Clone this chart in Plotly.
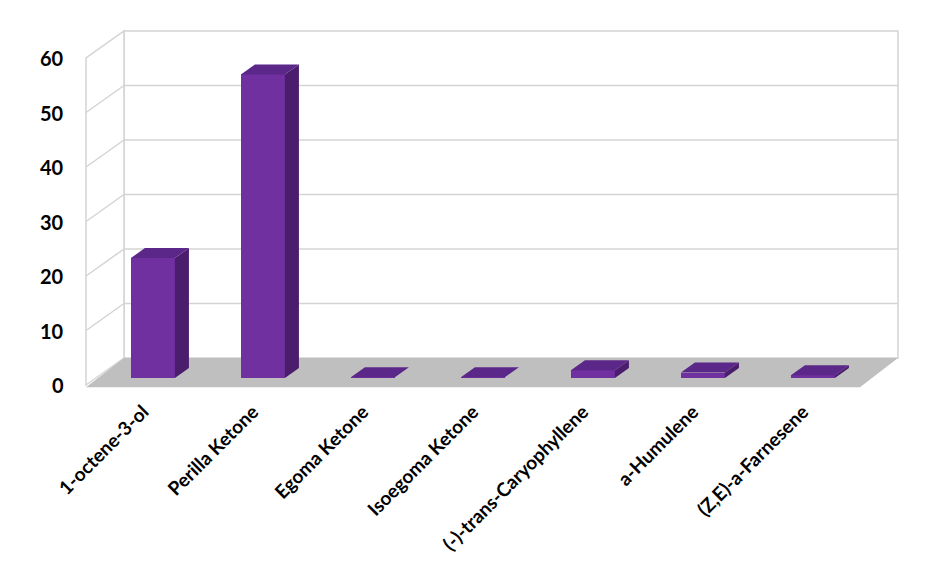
import plotly.graph_objects as go

categories = ["1-octene-3-ol", "Perilla Ketone", "Egoma Ketone", "Isoegoma Ketone",
              "(-)-trans-Caryophyllene", "a-Humulene", "(Z,E)-a-Farnesene"]
values = [22.0, 55.7, 0.15, 0.15, 1.4, 1.0, 0.5]
y_ticks = [0, 10, 20, 30, 40, 50, 60]

# ---- geometry of the oblique "3D" frame (axis units) ----
PAGE_OFF = 8.0         # body margin of the page
PX_PER_CAT = 110.0
PX_PER_VAL = 5.45
X0_PX = 143.0          # page pixel x of category 0 on the front plane
Y0_PX = 385.0          # page pixel y of value 0 on the front plane
W, H = 950, 588
BOTTOM_PX = 396.0      # page pixel y of plot-area bottom

DX = 38.0 / PX_PER_CAT   # depth offset front->back, x
DY = 27.0 / PX_PER_VAL   # depth offset front->back, y
F0, F1 = 0.26, 0.63      # bar front / back depth fractions
BW = 44.0 / PX_PER_CAT   # bar width

def ux(px):
    return (px - X0_PX) / PX_PER_CAT

def vy(py):
    return (Y0_PX - py) / PX_PER_VAL

x_left_front = ux(86)
x_right_back = ux(898)
ymax = y_ticks[-1]

FRONT = "#7030A0"
SIDE = "#4A1E6C"
TOP = "#5B2789"
GRID = "#D4D4D4"
FLOOR = "#BFBFBF"

shapes = []
# back wall
shapes.append(dict(type="rect", layer="below", xref="x", yref="y",
                   x0=x_left_front + DX, x1=x_right_back, y0=DY, y1=ymax + DY,
                   fillcolor="white", line=dict(color=GRID, width=1.5)))
# side wall
shapes.append(dict(type="path", layer="below", xref="x", yref="y",
                   path=f"M {x_left_front},{0} L {x_left_front + DX},{DY} L {x_left_front + DX},{ymax + DY} L {x_left_front},{ymax} Z",
                   fillcolor="white", line=dict(color=GRID, width=1.5)))
for t in y_ticks[1:-1]:
    shapes.append(dict(type="line", layer="below", xref="x", yref="y",
                       x0=x_left_front + DX, x1=x_right_back, y0=t + DY, y1=t + DY,
                       line=dict(color=GRID, width=1.5)))
    shapes.append(dict(type="line", layer="below", xref="x", yref="y",
                       x0=x_left_front, x1=x_left_front + DX, y0=t, y1=t + DY,
                       line=dict(color=GRID, width=1.5)))
# floor
floor_front = -0.4
shapes.append(dict(type="path", layer="below", xref="x", yref="y",
                   path=(f"M {x_left_front},{floor_front} L {x_left_front + DX},{DY} "
                         f"L {x_right_back},{DY} L {x_right_back - DX},{floor_front} Z"),
                   fillcolor=FLOOR, line=dict(width=0)))

fig = go.Figure()

# bar front faces
xc = [i + F0 * DX for i in range(len(categories))]
fig.add_trace(go.Bar(x=xc, y=values, base=[F0 * DY] * len(values), width=BW,
                     marker=dict(color=FRONT, line=dict(width=0)),
                     hoverinfo="skip", showlegend=False))

ddx = (F1 - F0) * DX
ddy = (F1 - F0) * DY
for i, h in enumerate(values):
    xl = xc[i] - BW / 2
    xr = xc[i] + BW / 2
    yb = F0 * DY
    yt = yb + h
    # side face
    fig.add_trace(go.Scatter(x=[xr, xr + ddx, xr + ddx, xr, xr],
                             y=[yb, yb + ddy, yt + ddy, yt, yb],
                             mode="lines", fill="toself", fillcolor=SIDE,
                             line=dict(width=0, color=SIDE), hoverinfo="skip", showlegend=False))
    # top face
    fig.add_trace(go.Scatter(x=[xl, xr, xr + ddx, xl + ddx, xl],
                             y=[yt, yt, yt + ddy, yt + ddy, yt],
                             mode="lines", fill="toself", fillcolor=TOP,
                             line=dict(width=0, color=TOP), hoverinfo="skip", showlegend=False))

annotations = []
for t in y_ticks:
    annotations.append(dict(x=x_left_front, y=t, xref="x", yref="y", text=str(t),
                            showarrow=False, xanchor="right", yanchor="middle", xshift=-20,
                            font=dict(family="Lato", size=20, color="black", weight="bold")))

fig.update_layout(
    width=W, height=H,
    margin=dict(l=0, r=0, t=0, b=H - (BOTTOM_PX - PAGE_OFF)),
    paper_bgcolor="white", plot_bgcolor="white",
    shapes=shapes, annotations=annotations,
    showlegend=False, bargap=0,
    xaxis=dict(range=[ux(PAGE_OFF), ux(PAGE_OFF + W)], tickmode="array",
               tickvals=list(range(len(categories))),
               ticktext=categories, tickangle=-45, showgrid=False, zeroline=False,
               showline=False, ticks="", fixedrange=True,
               tickfont=dict(family="Lato", size=19, color="black", weight="bold")),
    yaxis=dict(range=[vy(BOTTOM_PX), vy(PAGE_OFF)], showgrid=False, zeroline=False,
               showline=False, showticklabels=False, ticks="", fixedrange=True),
)

fig.write_html("out.html")
